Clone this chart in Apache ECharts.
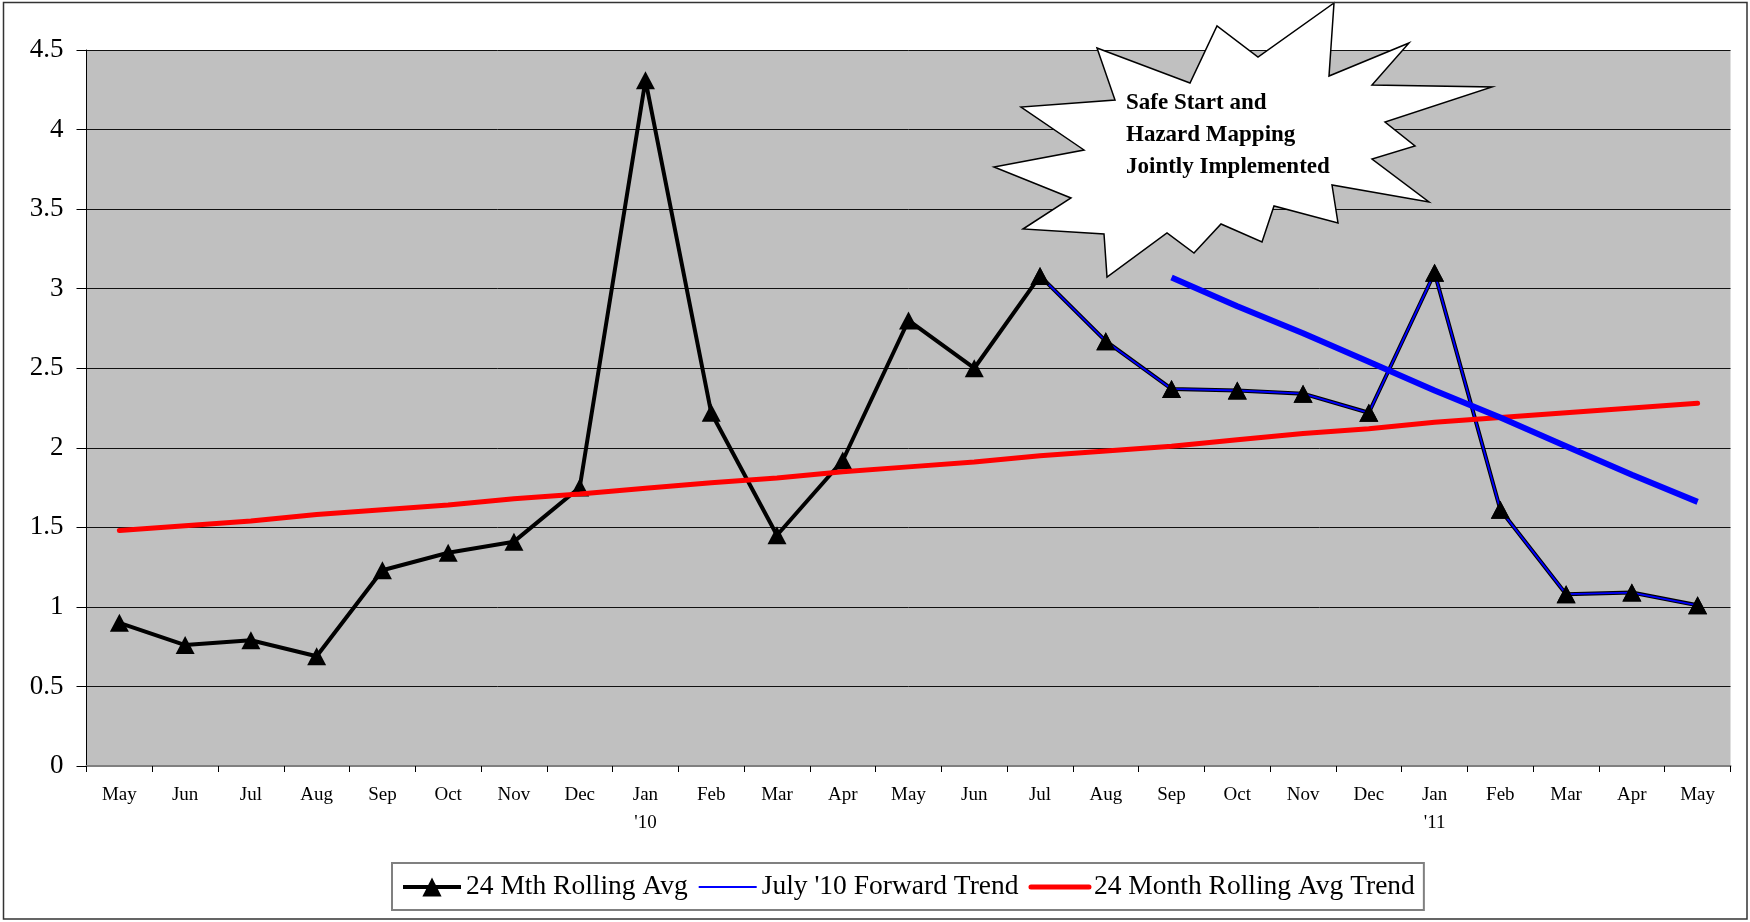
<!DOCTYPE html>
<html>
<head>
<meta charset="utf-8">
<script src="https://cdn.jsdelivr.net/npm/echarts@6/dist/echarts.min.js"></script>
<style>
html,body{margin:0;padding:0;background:#fff;}
#chart{width:1750px;height:922px;}
</style>
</head>
<body>
<div id="chart"></div>
<script>
// ---- data ----
const months = ['May','Jun','Jul','Aug','Sep','Oct','Nov','Dec',"Jan\n'10",'Feb','Mar','Apr','May','Jun','Jul','Aug','Sep','Oct','Nov','Dec',"Jan\n'11",'Feb','Mar','Apr','May'];
const rollingAvg = [0.90,0.76,0.79,0.69,1.23,1.34,1.41,1.75,4.31,2.22,1.45,1.92,2.80,2.50,3.08,2.67,2.37,2.36,2.34,2.22,3.10,1.61,1.08,1.09,1.01];
const julyForward = [null,null,null,null,null,null,null,null,null,null,null,null,null,null,3.08,2.67,2.37,2.36,2.34,2.22,3.10,1.61,1.08,1.09,1.01];
const rollingTrend = [1.48,1.51,1.54,1.58,1.61,1.64,1.68,1.71,1.745,1.78,1.81,1.85,1.88,1.91,1.95,1.98,2.01,2.05,2.09,2.12,2.16,2.19,2.22,2.25,2.28];
const forwardTrendLine = [null,null,null,null,null,null,null,null,null,null,null,null,null,null,null,null,3.07,2.89,2.72,2.54,2.36,2.19,2.01,1.83,1.66];
const yTicks = {min:0, max:4.5, interval:0.5};
const seriesNames = ['24 Mth Rolling Avg', "July '10 Forward Trend", '24 Month Rolling Avg Trend'];
const noteText = 'Safe Start and\nHazard Mapping\nJointly Implemented';

const SERIF = '"Liberation Serif","Times New Roman",serif';
const chart = echarts.init(document.getElementById('chart'), null, {renderer:'canvas'});

const starPoints = [
  [1097,48],[1190,83],[1217,26],[1258,57],[1334,3],[1329,76],[1409,43],[1372,85],
  [1492,87],[1385,122],[1415,146],[1372,159],[1429,202],[1332,185],[1338,223],[1274,206],
  [1262,242],[1221,224],[1194,253],[1167,233],[1107,277],[1104,234],[1023,229],[1071,198],
  [994,167],[1084,150],[1021,107],[1115,100]
];

const option = {
  animation:false,
  backgroundColor:'#fff',
  grid:{left:86.5, right:19.5, top:50, bottom:156, show:true, backgroundColor:'#C0C0C0', borderWidth:0},
  legend:{
    data:[
      {name:seriesNames[0]},
      {name:seriesNames[1], itemStyle:{opacity:0}},
      {name:seriesNames[2], itemStyle:{opacity:0}}
    ],
    left:392, top:863,
    padding:[10,9,9,9],
    backgroundColor:'#fff',
    borderColor:'#808080', borderWidth:2, borderRadius:0,
    itemWidth:58, itemHeight:24, itemGap:10,
    selectedMode:false,
    lineStyle:{width:'inherit'},
    textStyle:{fontFamily:SERIF, fontSize:27.5, color:'#000'}
  },
  xAxis:{
    type:'category', data:months, boundaryGap:true,
    axisLine:{show:true, lineStyle:{color:'#808080', width:2}},
    axisTick:{show:true, inside:false, length:6, interval:0, lineStyle:{color:'#000'}},
    axisLabel:{interval:0, margin:15, fontFamily:SERIF, fontSize:19, color:'#000', lineHeight:28},
    splitLine:{show:false}
  },
  yAxis:{
    type:'value', min:yTicks.min, max:yTicks.max, interval:yTicks.interval,
    axisLine:{show:true, lineStyle:{color:'#000', width:1}},
    axisTick:{show:true, inside:false, length:10, lineStyle:{color:'#000'}},
    axisLabel:{margin:23, fontFamily:SERIF, fontSize:27, color:'#000'},
    splitLine:{show:true, lineStyle:{color:'#111', width:1}}
  },
  series:[
    {name:seriesNames[0], type:'line', data:rollingAvg, symbol:'triangle', symbolSize:[19,18],
     itemStyle:{color:'#000'}, lineStyle:{color:'#000', width:4}, z:2},
    {name:seriesNames[1], type:'line', data:julyForward, symbol:'none', connectNulls:false,
     itemStyle:{color:'rgba(0,0,255,0)'}, lineStyle:{color:'#0000FF', width:1.8}, z:3},
    {name:'markers', type:'line', data:julyForward, symbol:'triangle', symbolSize:[19,18], showSymbol:true,
     itemStyle:{color:'#000'}, lineStyle:{width:0, opacity:0}, z:4, silent:true},
    {name:seriesNames[2], type:'line', data:rollingTrend, symbol:'none',
     itemStyle:{color:'rgba(255,0,0,0)'}, lineStyle:{color:'#FF0000', width:5, cap:'round'}, z:5},
    {name:'forwardTrendLine', type:'line', data:forwardTrendLine, symbol:'none',
     itemStyle:{color:'#0000FF'}, lineStyle:{color:'#0000FF', width:6}, z:6}
  ],
  graphic:[
    {type:'rect', shape:{x:3.5, y:2.5, width:1743.5, height:916.5}, style:{fill:null, stroke:'#333', lineWidth:1.5}, z:100, silent:true},
    {type:'polygon', shape:{points:starPoints}, style:{fill:'#fff', stroke:'#000', lineWidth:1.5}, z:50},
    {type:'text', x:1126, y:87, z:51, style:{text:noteText, font:'bold 23px '+SERIF, lineHeight:31.9, fill:'#000', textAlign:'left', textVerticalAlign:'top'}}
  ]
};
chart.setOption(option);
</script>
</body>
</html>
